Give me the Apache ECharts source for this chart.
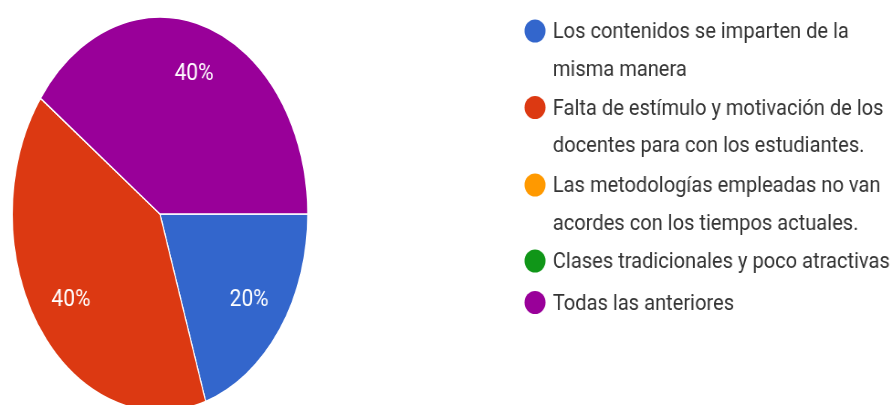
<!DOCTYPE html>
<html>
<head>
<meta charset="utf-8">
<script src="https://cdn.jsdelivr.net/npm/echarts@6/dist/echarts.min.js"></script>
<style>
html, body { margin: 0; padding: 0; background: #fff; overflow: hidden; }
#wrap { position: relative; width: 893px; height: 405px; overflow: hidden; }
/* the reference is squeezed sideways: the pie more than the text */
#pie { position: absolute; left: 0; top: 0; width: 1191px; height: 405px; transform: scaleX(0.75); transform-origin: 0 0; }
#txt { position: absolute; left: 0; top: 0; width: 978px; height: 405px; transform: scaleX(0.913); transform-origin: 0 0; }
</style>
</head>
<body>
<div id="wrap"><div id="pie"></div><div id="txt"></div></div>
<script>
var categories = [
    'Los contenidos se imparten de la misma manera',
    'Falta de estímulo y motivación de los docentes para con los estudiantes.',
    'Las metodologías empleadas no van acordes con los tiempos actuales.',
    'Clases tradicionales y poco atractivas',
    'Todas las anteriores'
];
var legendText = [
    'Los contenidos se imparten de la\nmisma manera',
    'Falta de estímulo y motivación de los\ndocentes para con los estudiantes.',
    'Las metodologías empleadas no van\nacordes con los tiempos actuales.',
    'Clases tradicionales y poco atractivas',
    'Todas las anteriores'
];
var counts = [1, 2, 0, 0, 2];
var colors = ['#3366cc', '#dc3912', '#ff9900', '#109618', '#990099'];

var SX_PIE = 0.75, SX_TXT = 0.913;
var CX = 160, CY = 214, R = 197;      // on screen
var LINE = 37.5;
var iconY = [31, 107.5, 185, 261, 302.5];

var pieData = categories.map(function (c, i) {
    return { name: c, value: counts[i] };
});

// pie itself
var pie = echarts.init(document.getElementById('pie'));
pie.setOption({
    animation: false,
    color: colors,
    series: [{
        type: 'pie',
        center: [CX / SX_PIE, CY],
        radius: [0, R],
        startAngle: 0,
        clockwise: true,
        label: { show: false },
        labelLine: { show: false },
        itemStyle: { borderColor: '#fff', borderWidth: 1.5 },
        emphasis: { disabled: true },
        data: pieData
    }]
});

// legend and percent labels
function iconPath(lines) {
    var h = lines * LINE, cy = LINE / 2 - 1.5, r = 11.5;
    return 'path://M0,0M29,' + h + 'M' + (14.5 + r) + ',' + cy +
        'A' + r + ',' + r + ',0,1,1,' + (14.5 - r) + ',' + cy +
        'A' + r + ',' + r + ',0,1,1,' + (14.5 + r) + ',' + cy + 'Z';
}
var legends = categories.map(function (c, i) {
    var lines = legendText[i].split('\n').length;
    return {
        orient: 'vertical',
        left: 571.5,
        top: iconY[i] + 1.5 - LINE / 2,
        padding: 0,
        itemWidth: 29,
        itemHeight: lines * LINE,
        selectedMode: false,
        textStyle: {
            fontFamily: 'Roboto',
            fontSize: 22,
            lineHeight: LINE,
            color: '#333'
        },
        data: [{ name: c, icon: iconPath(lines), itemStyle: { color: colors[i], opacity: 1 } }],
        formatter: function (name) {
            return legendText[categories.indexOf(name)];
        }
    };
});

var cx2 = CX / SX_TXT, k = SX_PIE / SX_TXT;
var txt = echarts.init(document.getElementById('txt'));
txt.setOption({
    animation: false,
    color: colors,
    legend: legends,
    series: [{
        type: 'pie',
        center: [cx2, CY],
        radius: [R * 0.46, R],
        startAngle: 0,
        clockwise: true,
        silent: true,
        itemStyle: { color: 'rgba(0,0,0,0)', borderWidth: 0 },
        label: {
            show: true,
            position: 'inside',
            color: '#fff',
            fontFamily: 'Roboto',
            fontSize: 23,
            formatter: function (p) {
                return p.value ? Math.round(p.percent) + '%' : '';
            }
        },
        labelLayout: function (p) {
            var r = p.labelRect;
            return {
                x: cx2 + (r.x + r.width / 2 - cx2) * k,
                y: r.y + r.height / 2,
                align: 'center',
                verticalAlign: 'middle'
            };
        },
        labelLine: { show: false },
        data: pieData
    }]
});
</script>
</body>
</html>
